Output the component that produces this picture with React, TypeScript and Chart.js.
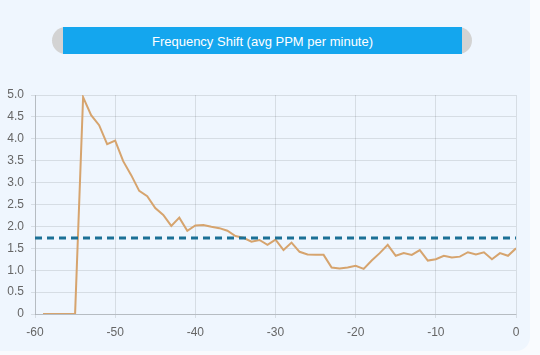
import React, { useEffect, useRef } from "react";
import { Chart, registerables } from "chart.js";

Chart.register(...registerables);

const minutes: number[] = [
  -59, -58, -57, -56, -55, -54, -53, -52, -51, -50,
  -49, -48, -47, -46, -45, -44, -43, -42, -41, -40,
  -39, -38, -37, -36, -35, -34, -33, -32, -31, -30,
  -29, -28, -27, -26, -25, -24, -23, -22, -21, -20,
  -19, -18, -17, -16, -15, -14, -13, -12, -11, -10,
  -9, -8, -7, -6, -5, -4, -3, -2, -1, 0,
];

const shiftPpm: number[] = [
  0, 0, 0, 0, 0, 4.95, 4.54, 4.31, 3.88, 3.96,
  3.49, 3.17, 2.81, 2.69, 2.42, 2.26, 2.01, 2.2, 1.9, 2.02,
  2.03, 1.99, 1.96, 1.9, 1.78, 1.74, 1.65, 1.69, 1.58, 1.7,
  1.46, 1.63, 1.42, 1.36, 1.35, 1.35, 1.06, 1.04, 1.06, 1.1,
  1.03, 1.22, 1.39, 1.58, 1.33, 1.39, 1.35, 1.46, 1.22, 1.25,
  1.33, 1.29, 1.31, 1.41, 1.36, 1.41, 1.25, 1.39, 1.33, 1.5,
];

const averageX: number[] = [-60, 0];
const averageY: number[] = [1.735, 1.735];

const titleText = "Frequency Shift (avg PPM per minute)";
const FONT = 'Arial, "Liberation Sans", Helvetica, sans-serif';

export default function App() {
  const canvasRef = useRef<HTMLCanvasElement | null>(null);

  useEffect(() => {
    const ctx = canvasRef.current;
    if (!ctx) return;
    const chart = new Chart(ctx, {
      type: "line",
      data: {
        datasets: [
          {
            label: "Average",
            data: averageX.map((x, i) => ({ x, y: averageY[i] })),
            borderColor: "#1b7096",
            borderWidth: 3,
            borderDash: [7, 5],
            pointRadius: 0,
            fill: false,
            order: 0,
          },
          {
            label: "Shift",
            data: minutes.map((x, i) => ({ x, y: shiftPpm[i] })),
            borderColor: "#d6a46e",
            borderWidth: 2,
            pointRadius: 0,
            tension: 0,
            fill: false,
            order: 1,
          },
        ],
      },
      options: {
        animation: false,
        responsive: false,
        maintainAspectRatio: false,
        layout: { padding: { top: 95, left: 0, right: 24, bottom: 0 } },
        plugins: {
          legend: { display: false },
          title: { display: false },
          tooltip: { enabled: false },
        },
        scales: {
          x: {
            type: "linear",
            min: -60,
            max: 0,
            ticks: {
              stepSize: 10,
              color: "#666",
              font: { family: FONT, size: 12 },
              padding: 7,
              maxRotation: 0,
            },
            grid: { color: "rgba(0,0,0,0.1)", tickLength: 4 },
            border: { color: "rgba(0,0,0,0.15)" },
            afterFit: (s: any) => {
              s.height = 41;
            },
          },
          y: {
            min: 0,
            max: 5,
            ticks: {
              stepSize: 0.5,
              color: "#666",
              font: { family: FONT, size: 12 },
              padding: 7,
              callback: (v: any) => (Number(v) === 0 ? "0" : Number(v).toFixed(1)),
            },
            grid: { color: "rgba(0,0,0,0.1)", tickLength: 4 },
            border: { color: "rgba(0,0,0,0.15)" },
            afterFit: (s: any) => {
              s.width = 35;
            },
          },
        },
      },
    });
    return () => chart.destroy();
  }, []);

  return (
    <div
      style={{
        position: "fixed",
        left: 0,
        top: 0,
        width: 540,
        height: 355,
        background: "#f9fbfe",
        overflow: "hidden",
        fontFamily: FONT,
      }}
    >
      <div
        style={{
          position: "absolute",
          left: -14,
          top: -14,
          width: 544,
          height: 365,
          background: "#eff6fe",
          borderRadius: 14,
        }}
      />
      <div
        style={{
          position: "absolute",
          left: 52,
          top: 27,
          width: 420,
          height: 27,
          background: "#d3d3d3",
          borderRadius: 14,
        }}
      />
      <div
        style={{
          position: "absolute",
          left: 63,
          top: 27,
          width: 399,
          height: 27,
          background: "#14a6ee",
          color: "#ffffff",
          fontSize: 13,
          lineHeight: "29px",
          textAlign: "center",
        }}
      >
        {titleText}
      </div>
      <canvas
        ref={canvasRef}
        width={540}
        height={355}
        style={{ position: "absolute", left: 0, top: 0, width: 540, height: 355 }}
      />
    </div>
  );
}
